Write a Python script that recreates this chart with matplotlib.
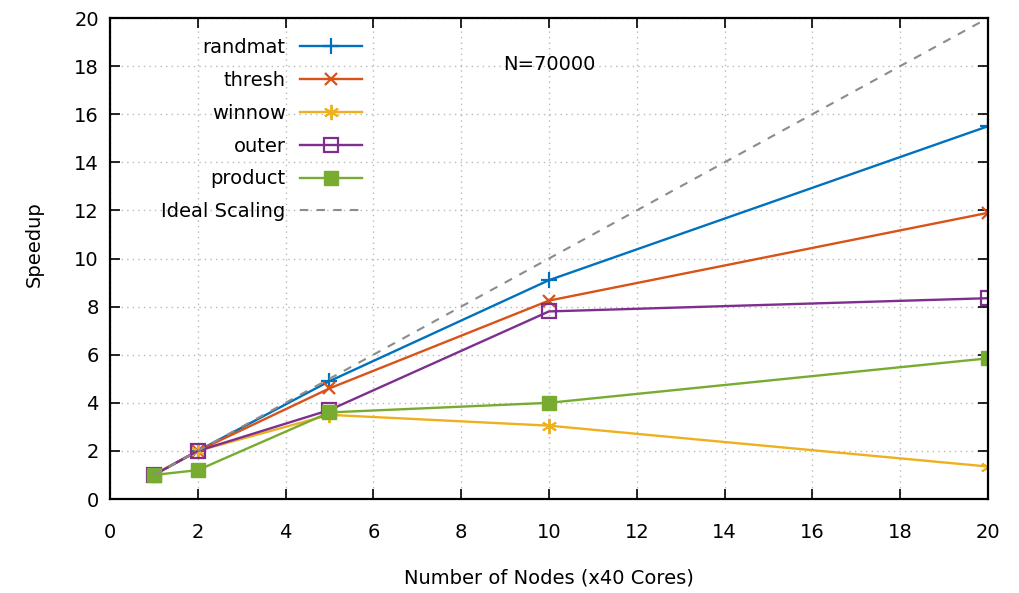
import matplotlib.pyplot as plt

plt.rcParams['font.family'] = ['DejaVu Sans']

# data
nodes = [1, 2, 5, 10, 20]
randmat = [1.0, 2.0, 4.9, 9.1, 15.5]
thresh = [1.0, 2.0, 4.6, 8.25, 11.9]
winnow = [1.0, 2.0, 3.5, 3.05, 1.35]
outer = [1.0, 2.0, 3.7, 7.8, 8.35]
product = [1.0, 1.2, 3.6, 4.0, 5.85]
ideal_x = [1, 20]
ideal_y = [1, 20]

fig = plt.figure(figsize=(10.2, 5.93), dpi=100)
ax = fig.add_axes([0.1078, 0.1585, 0.8608, 0.8111])

lw = 1.7
ax.plot(nodes, randmat, color='#0072bd', lw=lw, marker='+', ms=11, mew=1.6, label='randmat')
ax.plot(nodes, thresh, color='#d95319', lw=lw, marker='x', ms=9, mew=1.6, label='thresh')
ax.plot(nodes, winnow, color='#edb120', lw=lw, marker=(6, 2, 0), ms=11, mew=1.4, label='winnow')
ax.plot(nodes, outer, color='#7e2f8e', lw=lw, marker='s', ms=10, mew=1.6, fillstyle='none', label='outer')
ax.plot(nodes, product, color='#77ac30', lw=lw, marker='s', ms=10, label='product')
ax.plot(ideal_x, ideal_y, color='#8c8c8c', lw=1.5, ls=(0, (4, 4)), label='Ideal Scaling')

ax.set_xlim(0, 20)
ax.set_ylim(0, 20)
ax.set_xticks(range(0, 21, 2))
ax.set_yticks(range(0, 21, 2))
ax.tick_params(direction='in', length=7, width=1.2, top=True, right=True, labelsize=14)
ax.tick_params(axis='x', pad=17)
ax.tick_params(axis='y', pad=8)
ax.grid(True, color='#b8b8b8', ls=(0, (1, 3)), lw=1.0)
for s in ax.spines.values():
    s.set_linewidth(1.6)

ax.text(0.5, -0.164, 'Number of Nodes (x40 Cores)', fontsize=14, ha='center', va='center',
        transform=ax.transAxes)
ax.text(-0.086, 0.53, 'Speedup', fontsize=14, ha='center', va='center', rotation=90,
        transform=ax.transAxes)

ax.text(8.95, 18.05, 'N=70000', fontsize=14, va='center')

ax.legend(loc='upper right', bbox_to_anchor=(0.287, 0.958), bbox_transform=ax.transAxes,
          frameon=False, markerfirst=False, fontsize=14, handlelength=3.2, handletextpad=0.72,
          labelspacing=0.71, borderaxespad=0, borderpad=0)

fig.savefig('out.png', dpi=100)
